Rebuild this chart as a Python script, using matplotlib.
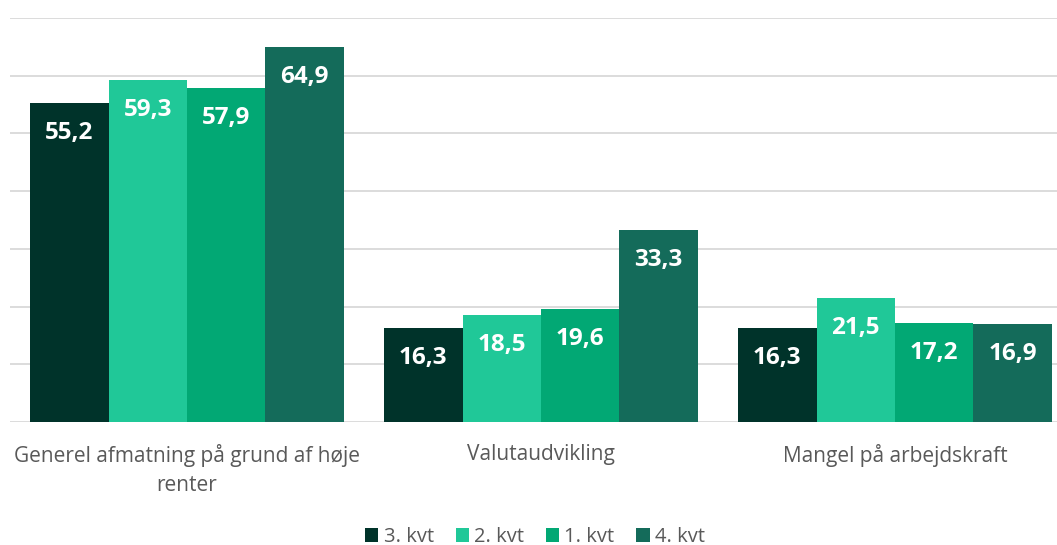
import matplotlib.pyplot as plt
import numpy as np

categories = ["Generel afmatning på grund af høje\nrenter", "Valutaudvikling", "Mangel på arbejdskraft"]
series_names = ["3. kvt", "2. kvt", "1. kvt", "4. kvt"]
kvt3 = [55.2, 16.3, 16.3]
kvt2 = [59.3, 18.5, 21.5]
kvt1 = [57.9, 19.6, 17.2]
kvt4 = [64.9, 33.3, 16.9]
colors = ["#00332a", "#20c898", "#02a874", "#146b5a"]

plt.rcParams['font.family'] = ['Open Sans', 'DejaVu Sans']

fig = plt.figure(figsize=(10.57, 5.45), dpi=100)
ax = fig.add_axes([10 / 1057, 1 - 422 / 545, 1062 / 1057, (422 - 18) / 545])

x = np.arange(len(categories))
w = 0.887 / 4
for i, (name, vals) in enumerate(zip(series_names, [kvt3, kvt2, kvt1, kvt4])):
    pos = x - 0.887 / 2 + w * (i + 0.5)
    ax.bar(pos, vals, w, color=colors[i], label=name, zorder=3)
    for p, v in zip(pos, vals):
        ax.annotate(f"{v:.1f}".replace(".", ","), (p, v), xytext=(0, -30 * 72 / 100),
                    textcoords="offset points", ha="center", va="center",
                    color="white", fontsize=17.5, fontweight="bold", zorder=4)

ax.set_xlim(-0.5, 2.5)
ax.set_ylim(0, 70)
ax.set_yticks(np.arange(0, 71, 10))
ax.yaxis.grid(True, color="#d9d9d9", linewidth=1.3, zorder=0)
ax.tick_params(axis="y", left=False, labelleft=False)
ax.tick_params(axis="x", bottom=False, colors="#595959", labelsize=15, pad=12)
ax.set_xticks(x)
ax.set_xticklabels(categories, color="#595959", linespacing=1.5)
for s in ax.spines.values():
    s.set_visible(False)

fig.legend(loc="center", bbox_to_anchor=(535 / 1057, 1 - 537 / 545), ncol=4, frameon=False,
           fontsize=14.5, handlelength=0.65, handleheight=0.65, handletextpad=0.25,
           columnspacing=1.1, labelcolor="#595959")

fig.savefig("out.png", dpi=100)
